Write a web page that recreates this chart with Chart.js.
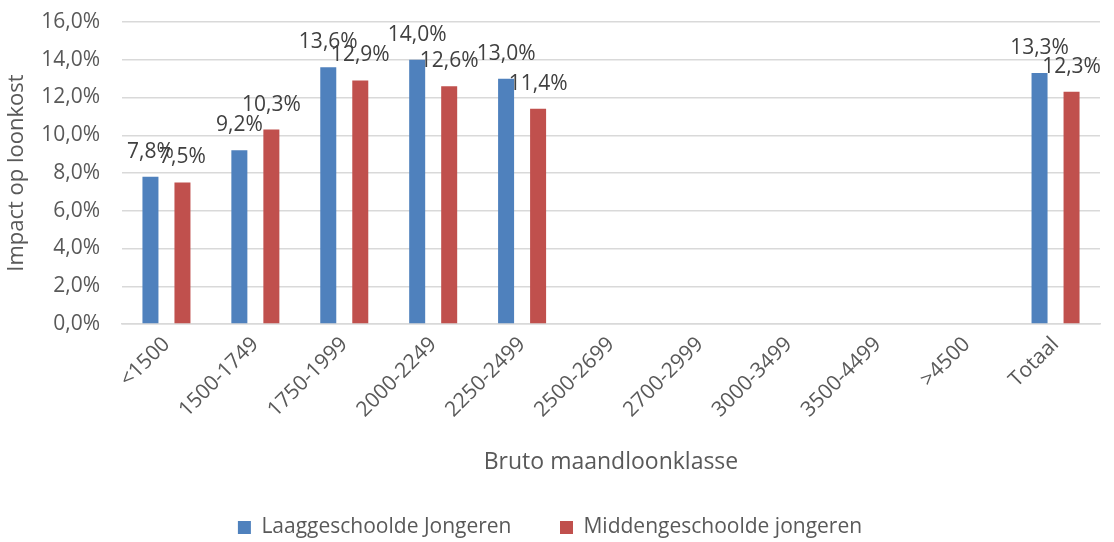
<!DOCTYPE html>
<html lang="nl">
<head>
  <meta charset="UTF-8">
  <title>Impact op loonkost</title>
  <style>
    html, body { margin: 0; padding: 0; background: #fff; }
    .wrap { width: 1114px; height: 542px; }
  </style>
  <script src="https://cdn.jsdelivr.net/npm/chart.js"></script>
</head>
<body>
  <div class="wrap"><canvas id="impact"></canvas></div>

  <script>
    const klassen = ["<1500", "1500-1749", "1750-1999", "2000-2249", "2250-2499",
                     "2500-2699", "2700-2999", "3000-3499", "3500-4499", ">4500", "Totaal"];
    const laag = [7.8, 9.2, 13.6, 14.0, 13.0, null, null, null, null, null, 13.3];
    const midden = [7.5, 10.3, 12.9, 12.6, 11.4, null, null, null, null, null, 12.3];
    const yTicks = [0, 2, 4, 6, 8, 10, 12, 14, 16];

    const grey = "#595959";
    const font = "'Open Sans', sans-serif";
    const pct = v => v.toFixed(1).replace(".", ",") + "%";

    // labels boven de staven, zoals in Excel
    const barLabels = {
      id: "barLabels",
      afterDatasetsDraw(chart) {
        const ctx = chart.ctx;
        ctx.save();
        ctx.font = "21px " + font;
        ctx.fillStyle = "#404040";
        ctx.textAlign = "center";
        ctx.textBaseline = "middle";
        chart.data.datasets.forEach((ds, i) => {
          chart.getDatasetMeta(i).data.forEach((bar, j) => {
            if (ds.data[j] == null) return;
            ctx.fillText(pct(ds.data[j]), bar.x, bar.y - 25);
          });
        });
        ctx.restore();
      }
    };

    new Chart("impact", {
      type: "bar",
      data: {
        labels: klassen,
        datasets: [
          { label: "Laaggeschoolde Jongeren", data: laag, backgroundColor: "#4f81bd" },
          { label: "Middengeschoolde jongeren", data: midden, backgroundColor: "#c0504d" }
        ]
      },
      options: {
        animation: false,
        responsive: true,
        maintainAspectRatio: false,
        datasets: { bar: { categoryPercentage: 0.72, barPercentage: 0.5 } },
        layout: { padding: { top: 22, right: 14, left: 0, bottom: -6 } },
        plugins: {
          tooltip: { enabled: false },
          legend: {
            position: "bottom",
            labels: {
              color: grey, font: { family: font, size: 21 },
              boxWidth: 13, boxHeight: 13, padding: 3,
              // extra ruimte tussen de twee items
              generateLabels: chart => Chart.defaults.plugins.legend.labels.generateLabels(chart)
                .map((l, i) => Object.assign(l, { text: i === 0 ? l.text + "\u2003\u2003\u2009" : l.text }))
            }
          }
        },
        scales: {
          x: {
            afterFit: axis => { axis.height = 190; },
            grid: { display: false, drawTicks: false },
            border: { color: "#d9d9d9", width: 1.5 },
            ticks: {
              color: grey, font: { family: font, size: 21 },
              minRotation: 45, maxRotation: 45, padding: 8
            },
            title: {
              display: true, text: "Bruto maandloonklasse",
              color: grey, font: { family: font, size: 23 }, padding: { top: 0, bottom: 38 }
            }
          },
          y: {
            min: 0, max: 16,
            afterFit: axis => {
              axis.width = 122;
              // tick-padding niet meetellen boven/onder
              axis.paddingTop = 10;
              axis.paddingBottom = 10;
            },
            afterBuildTicks: axis => { axis.ticks = yTicks.map(v => ({ value: v })); },
            grid: { color: "#d9d9d9", lineWidth: 1.5, drawTicks: false },
            border: { display: false },
            ticks: {
              color: grey, font: { family: font, size: 21 }, padding: 22,
              callback: v => pct(v)
            },
            title: {
              display: true, text: "Impact op loonkost",
              color: grey, font: { family: font, size: 22 }, padding: { top: 4, bottom: 4 }
            }
          }
        }
      },
      plugins: [barLabels]
    });
  </script>
</body>
</html>
